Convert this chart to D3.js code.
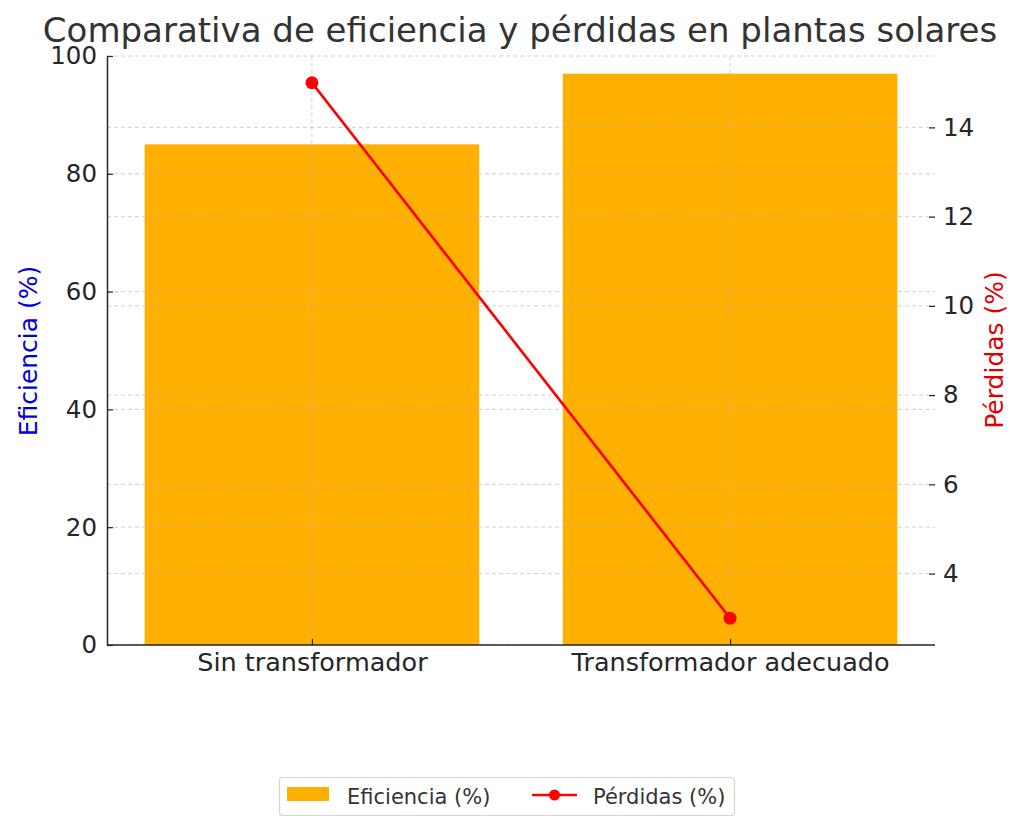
<!DOCTYPE html>
<html>
<head>
<meta charset="utf-8">
<script src="https://cdn.jsdelivr.net/npm/d3@7"></script>
<style>
  body { margin: 0; background: #fff; }
  svg { font-family: "DejaVu Sans", sans-serif; }
</style>
</head>
<body>
<svg id="chart" width="1024" height="831"></svg>
<script>
// Chart data
const categories = ["Sin transformador", "Transformador adecuado"];
const eficiencia = [85, 97];
const perdidas = [15, 3];
const leftTicks = [0, 20, 40, 60, 80, 100];
const rightTicks = [4, 6, 8, 10, 12, 14];

const svg = d3.select("#chart");
const margin = { left: 107, right: 935, top: 56, bottom: 645 };

// Scales
const x = d3.scaleLinear().domain([-0.49, 1.49]).range([margin.left, margin.right]);
const yLeft = d3.scaleLinear().domain([0, 100]).range([margin.bottom, margin.top]);
const yRight = d3.scaleLinear().domain([2.4, 15.6]).range([margin.bottom, margin.top]);
const barWidth = 0.8;

// Bars
svg.append("g")
    .selectAll("rect")
    .data(eficiencia)
    .join("rect")
    .attr("x", (d, i) => x(i - barWidth / 2))
    .attr("width", x(barWidth) - x(0))
    .attr("y", d => yLeft(d))
    .attr("height", d => yLeft(0) - yLeft(d))
    .attr("fill", "#ffb000");

// Grid lines (drawn over bars, semi transparent)
const grid = svg.append("g")
    .attr("stroke", "#b0b0b0")
    .attr("stroke-opacity", 0.6)
    .attr("stroke-width", 1)
    .attr("stroke-dasharray", "4,3");

grid.selectAll("line.gl")
    .data(leftTicks)
    .join("line")
    .attr("class", "gl")
    .attr("x1", margin.left).attr("x2", margin.right)
    .attr("y1", d => yLeft(d)).attr("y2", d => yLeft(d));

grid.selectAll("line.gr")
    .data(rightTicks)
    .join("line")
    .attr("class", "gr")
    .attr("x1", margin.left).attr("x2", margin.right)
    .attr("y1", d => yRight(d)).attr("y2", d => yRight(d));

grid.selectAll("line.gx")
    .data(categories)
    .join("line")
    .attr("class", "gx")
    .attr("x1", (d, i) => x(i)).attr("x2", (d, i) => x(i))
    .attr("y1", margin.top).attr("y2", margin.bottom);

// Axes
const leftAxis = svg.append("g")
    .attr("transform", `translate(${margin.left},0)`)
    .call(d3.axisLeft(yLeft).tickValues(leftTicks).tickSizeInner(-6).tickSizeOuter(0).tickPadding(10));

const rightAxis = svg.append("g")
    .attr("transform", `translate(${margin.right},0)`)
    .call(d3.axisRight(yRight).tickValues(rightTicks).tickSizeInner(-6).tickSizeOuter(0).tickPadding(8));
rightAxis.select(".domain").remove();

const bottomAxis = svg.append("g")
    .attr("transform", `translate(0,${margin.bottom})`)
    .call(d3.axisBottom(x).tickValues([0, 1]).tickFormat(i => categories[i])
        .tickSizeInner(-6).tickSizeOuter(0).tickPadding(8));

[leftAxis, rightAxis, bottomAxis].forEach(a => {
    a.selectAll("text")
        .attr("font-size", 24.5)
        .attr("font-family", "DejaVu Sans")
        .attr("fill", "#262626");
    a.selectAll("line").attr("stroke", "#262626").attr("stroke-width", 1.2);
    a.select(".domain").attr("stroke", "#262626").attr("stroke-width", 1.5);
});
bottomAxis.selectAll("text").attr("font-size", 25.5);
bottomAxis.select(".domain").attr("d", `M${margin.left},0H${margin.right}`);

// Loss line
const line = d3.line()
    .x((d, i) => x(i))
    .y(d => yRight(d));

svg.append("path")
    .datum(perdidas)
    .attr("d", line)
    .attr("fill", "none")
    .attr("stroke", "#f00")
    .attr("stroke-width", 2.7);

svg.append("g")
    .selectAll("circle")
    .data(perdidas)
    .join("circle")
    .attr("cx", (d, i) => x(i))
    .attr("cy", d => yRight(d))
    .attr("r", 6.5)
    .attr("fill", "#f00");

// Title
svg.append("text")
    .attr("x", 520)
    .attr("y", 42)
    .attr("text-anchor", "middle")
    .attr("font-size", 34)
    .attr("fill", "#333")
    .text("Comparativa de eficiencia y pérdidas en plantas solares");

// Axis labels
svg.append("text")
    .attr("transform", "translate(37,351) rotate(-90)")
    .attr("text-anchor", "middle")
    .attr("font-size", 25)
    .attr("fill", "#0000dd")
    .text("Eficiencia (%)");

svg.append("text")
    .attr("transform", "translate(1003,350) rotate(-90)")
    .attr("text-anchor", "middle")
    .attr("font-size", 25)
    .attr("fill", "#e00000")
    .text("Pérdidas (%)");

// Legend
const legend = svg.append("g");
legend.append("rect")
    .attr("x", 279.5).attr("y", 777.5)
    .attr("width", 455).attr("height", 38)
    .attr("rx", 3)
    .attr("fill", "#fff")
    .attr("stroke", "#d5d5d5")
    .attr("stroke-width", 1.2);
legend.append("rect")
    .attr("x", 287).attr("y", 787)
    .attr("width", 42).attr("height", 14)
    .attr("fill", "#ffb000");
legend.append("text")
    .attr("x", 347).attr("y", 804)
    .attr("font-size", 21)
    .attr("fill", "#333")
    .text("Eficiencia (%)");
legend.append("line")
    .attr("x1", 532).attr("x2", 577)
    .attr("y1", 795).attr("y2", 795)
    .attr("stroke", "#f00")
    .attr("stroke-width", 2.5);
legend.append("circle")
    .attr("cx", 554.5).attr("cy", 795)
    .attr("r", 5.5)
    .attr("fill", "#f00");
legend.append("text")
    .attr("x", 593).attr("y", 804)
    .attr("font-size", 21)
    .attr("fill", "#333")
    .text("Pérdidas (%)");
</script>
</body>
</html>
